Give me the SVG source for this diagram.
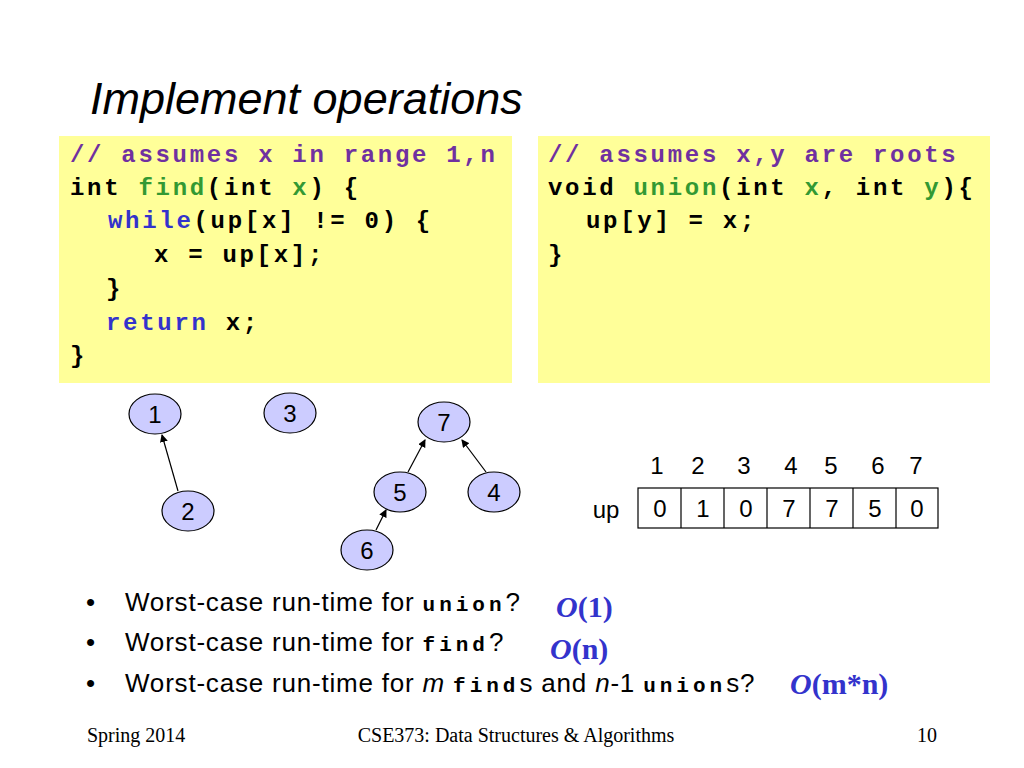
<svg xmlns="http://www.w3.org/2000/svg" width="1024" height="768" viewBox="0 0 1024 768">
<defs>
<style>
.code{font-family:"Liberation Mono",monospace;font-weight:bold;font-size:24px;letter-spacing:2.7px;fill:#000}
.c{fill:#7030a0}.g{fill:#339933}.b{fill:#3333cc}
.node ellipse{fill:#ccccff;stroke:#000;stroke-width:1.2}
.node text,.arr text{font-family:"Liberation Sans",sans-serif;font-size:24px;text-anchor:middle}
.edge{stroke:#000;stroke-width:1.2;marker-end:url(#ah)}
.bl{font-family:"Liberation Sans",sans-serif;font-size:26px;letter-spacing:0.8px}
.m{font-family:"Liberation Mono",monospace;font-weight:bold;font-size:21px;letter-spacing:4px}
.big{font-family:"Liberation Serif",serif;font-weight:bold;font-size:30px;fill:#3333cc}
.ft{font-family:"Liberation Serif",serif;font-size:20px}
</style>
<marker id="ah" markerWidth="8" markerHeight="8" refX="7" refY="4" orient="auto" markerUnits="userSpaceOnUse"><path d="M0,0 L8,4 L0,8 z" fill="#000"/></marker>
</defs>
<rect width="1024" height="768" fill="#fff"/>
<text x="90" y="114" font-family="Liberation Sans,sans-serif" font-style="italic" font-size="45">Implement operations</text>
<rect x="59" y="136" width="453" height="247" fill="#ffff99"/>
<rect x="538" y="136" width="452" height="247" fill="#ffff99"/>
<g class="code">
<text x="70" y="162" class="code c">// assumes x in range 1,n</text>
<text x="70" y="195" class="code">int <tspan class="g">find</tspan>(int <tspan class="g">x</tspan>) {</text>
<text x="108" y="228" class="code"><tspan class="b">while</tspan>(up[x] != 0) {</text>
<text x="154" y="262" class="code">x = up[x];</text>
<text x="106" y="296" class="code">}</text>
<text x="106" y="330" class="code"><tspan class="b">return</tspan> x;</text>
<text x="70" y="363" class="code">}</text>
<text x="548" y="162" class="code c">// assumes x,y are roots</text>
<text x="548" y="195" class="code">void <tspan class="g">union</tspan>(int <tspan class="g">x</tspan>, int <tspan class="g">y</tspan>){</text>
<text x="586" y="228" class="code">up[y] = x;</text>
<text x="548" y="262" class="code">}</text>
</g>
<g id="connectors">
<line class="edge" x1="178" y1="491" x2="162" y2="435"/>
<line class="edge" x1="376" y1="530" x2="386" y2="510"/>
<line class="edge" x1="408" y1="472" x2="425" y2="440"/>
<line class="edge" x1="486" y1="472" x2="462" y2="440"/>
</g>
<g id="n1" class="node"><ellipse cx="155" cy="414" rx="26" ry="20"/><text x="155" y="423">1</text></g>
<g id="n3" class="node"><ellipse cx="290" cy="413" rx="26" ry="20"/><text x="290" y="422">3</text></g>
<g id="n7" class="node"><ellipse cx="444" cy="422" rx="26" ry="20"/><text x="444" y="431">7</text></g>
<g id="n2" class="node"><ellipse cx="188" cy="511" rx="26" ry="20"/><text x="188" y="520">2</text></g>
<g id="n5" class="node"><ellipse cx="400" cy="492" rx="26" ry="20"/><text x="400" y="501">5</text></g>
<g id="n4" class="node"><ellipse cx="494" cy="492" rx="26" ry="20"/><text x="494" y="501">4</text></g>
<g id="n6" class="node"><ellipse cx="367" cy="550" rx="26" ry="20"/><text x="367" y="559">6</text></g>
<g id="array" class="arr">
<text x="657" y="474">1</text><text x="698" y="474">2</text><text x="744" y="474">3</text><text x="791" y="474">4</text><text x="831" y="474">5</text><text x="878" y="474">6</text><text x="916" y="474">7</text>
<text x="606" y="518">up</text>
<g fill="none" stroke="#000" stroke-width="1.2">
<rect x="638" y="488" width="300" height="40"/>
<path d="M681,488V528M724,488V528M767,488V528M810,488V528M853,488V528M896,488V528"/>
</g>
<text x="660" y="517">0</text><text x="703" y="517">1</text><text x="746" y="517">0</text><text x="789" y="517">7</text><text x="832" y="517">7</text><text x="875" y="517">5</text><text x="917" y="517">0</text>
</g>
<g class="bl">
<text x="86" y="611">•</text><text x="125" y="611">Worst-case run-time for <tspan class="m">union</tspan>?</text>
<text x="86" y="651">•</text><text x="125" y="651">Worst-case run-time for <tspan class="m">find</tspan>?</text>
<text x="86" y="692">•</text><text x="125" y="692">Worst-case run-time for <tspan font-style="italic">m</tspan> <tspan class="m">find</tspan>s and <tspan font-style="italic">n</tspan>-1 <tspan class="m">union</tspan>s?</text>
</g>
<text x="556" y="617" class="big"><tspan font-style="italic">O</tspan>(1)</text>
<text x="550" y="659" class="big"><tspan font-style="italic">O</tspan>(n)</text>
<text x="790" y="694" class="big"><tspan font-style="italic">O</tspan>(m*n)</text>
<text x="87" y="742" class="ft">Spring 2014</text>
<text x="516" y="742" class="ft" text-anchor="middle">CSE373: Data Structures &amp; Algorithms</text>
<text x="937" y="742" class="ft" text-anchor="end">10</text>
</svg>
